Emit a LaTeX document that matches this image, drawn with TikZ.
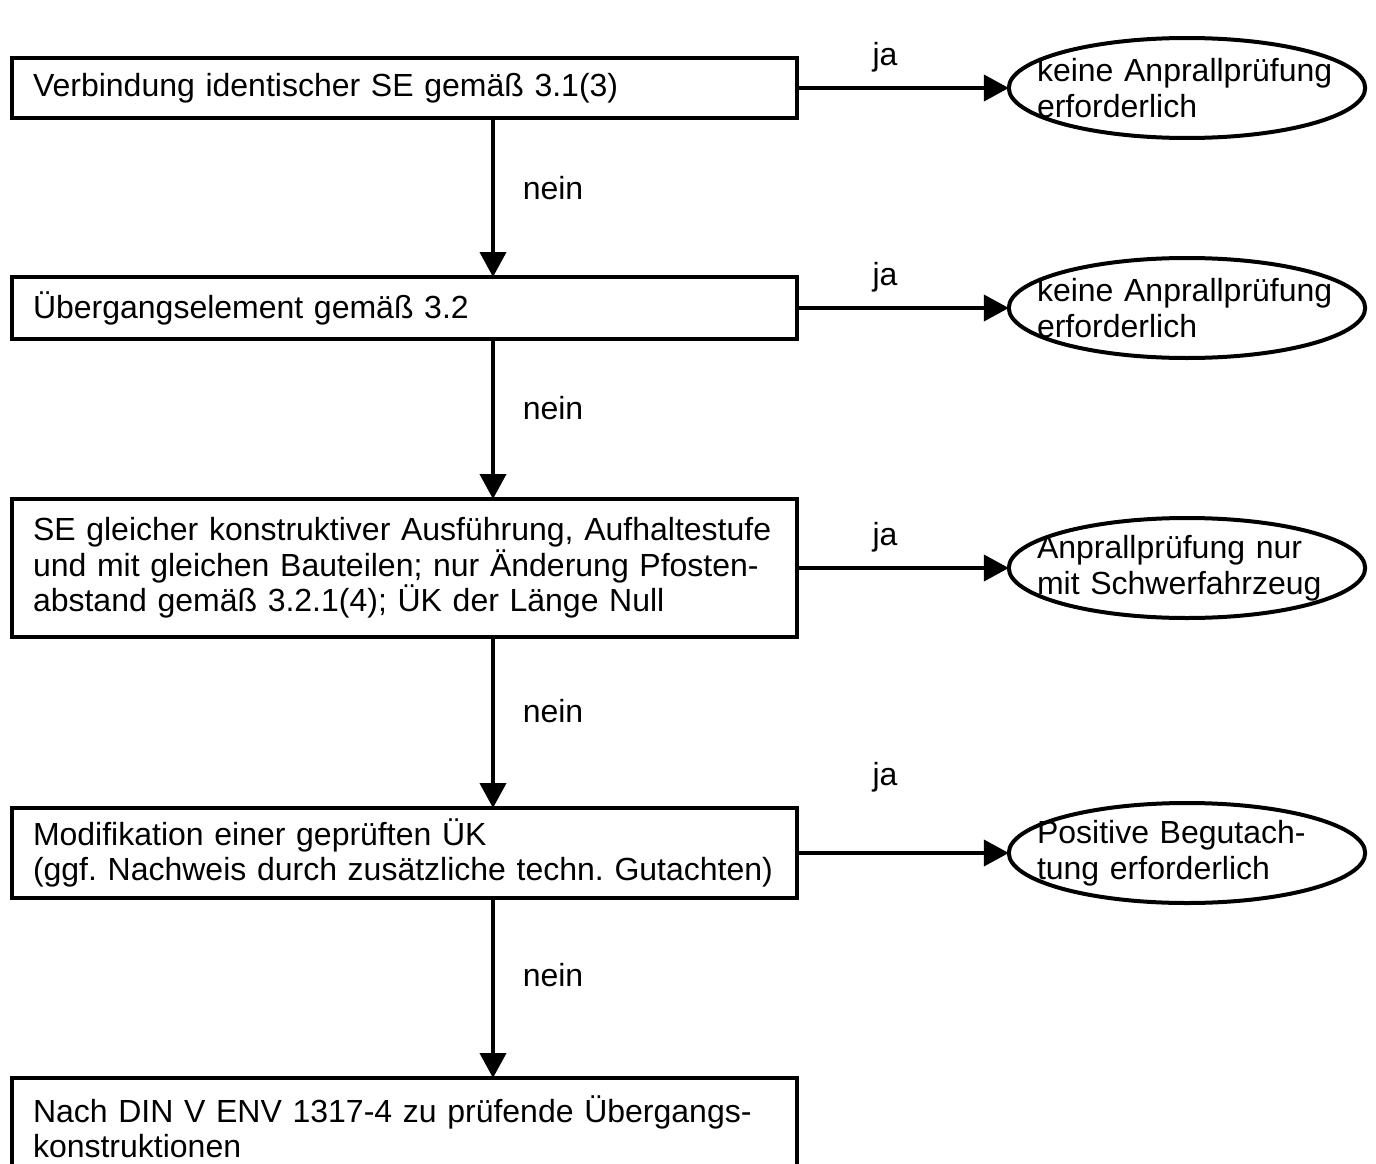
\documentclass[tikz,border=0pt]{standalone}
\usepackage{fontspec}
\setmainfont{Liberation Sans}
\usetikzlibrary{arrows.meta,shapes.geometric}
\hyphenpenalty=10000
\exhyphenpenalty=10000
\frenchspacing
\begin{document}
\begin{tikzpicture}[x=1pt,y=1pt,
  every node/.style={font=\fontsize{32}{35.5}\selectfont},
  box/.style={draw, line width=4pt, rectangle, anchor=north west, minimum width=785pt,
    text width=743pt, inner xsep=21pt, inner ysep=0pt, outer sep=0pt, align=left},
  term/.style={draw, line width=4pt, ellipse, minimum height=100pt,
    text width=300pt, inner xsep=-24pt, inner ysep=0pt, outer sep=0pt, align=left},
  arr/.style={line width=4pt, -{Triangle[length=25pt,width=26pt]}},
  lbl/.style={inner sep=0pt}]
\useasboundingbox (0,0) rectangle (1376,-1164);
\clip (0,0) rectangle (1376,-1164);
\fill[white] (0,0) rectangle (1376,-1164);

% boxes
\node[box, minimum height=60pt] (b1) at (12,-58) {\mbox{Verbindung identischer SE gemäß 3.1(3)}};
\node[box, minimum height=62pt] (b2) at (12,-277) {\mbox{Übergangselement gemäß 3.2}};
\node[box, minimum height=138pt] (b3) at (12,-499) {\mbox{SE gleicher konstruktiver Ausführung, Aufhaltestufe}\\\mbox{und mit gleichen Bauteilen; nur Änderung Pfosten-}\\\mbox{abstand gemäß 3.2.1(4); ÜK der Länge Null}};
\node[box, minimum height=90pt] (b4) at (12,-808) {\mbox{Modifikation einer geprüften ÜK}\\\mbox{(ggf. Nachweis durch zusätzliche techn. Gutachten)}};
\node[box, minimum height=98pt] (b5) at (12,-1078) {\mbox{Nach DIN V ENV 1317-4 zu prüfende Übergangs-}\\\mbox{konstruktionen}};

% terminals
\node[term] (e1) at (1187,-88) {\mbox{keine Anprallprüfung}\\\mbox{erforderlich}};
\node[term] (e2) at (1187,-308) {\mbox{keine Anprallprüfung}\\\mbox{erforderlich}};
\node[term] (e3) at (1187,-568) {\mbox{Anprallprüfung nur}\\\mbox{mit Schwerfahrzeug}};
\node[term] (e4) at (1187,-853) {\mbox{Positive Begutach-}\\\mbox{tung erforderlich}};

% vertical connectors
\coordinate (ax) at (493,0);
\draw[arr] (b1.south -| ax) -- (b2.north -| ax);
\draw[arr] (b2.south -| ax) -- (b3.north -| ax);
\draw[arr] (b3.south -| ax) -- (b4.north -| ax);
\draw[arr] (b4.south -| ax) -- (b5.north -| ax);

% horizontal connectors
\draw[arr] (b1.east) -- (e1.west);
\draw[arr] (b2.east) -- (e2.west);
\draw[arr] (b3.east) -- (e3.west);
\draw[arr] (b4.east) -- (e4.west);

% labels
\node[lbl] (n1) at (553,-188) {nein};
\node[lbl] (n2) at (553,-408) {nein};
\node[lbl] (n3) at (553,-711) {nein};
\node[lbl] (n4) at (553,-975) {nein};
\node[lbl] (j1) at (885,-57) {ja};
\node[lbl] (j2) at (885,-277) {ja};
\node[lbl] (j3) at (885,-537) {ja};
\node[lbl] (j4) at (885,-777) {ja};
\end{tikzpicture}
\end{document}
